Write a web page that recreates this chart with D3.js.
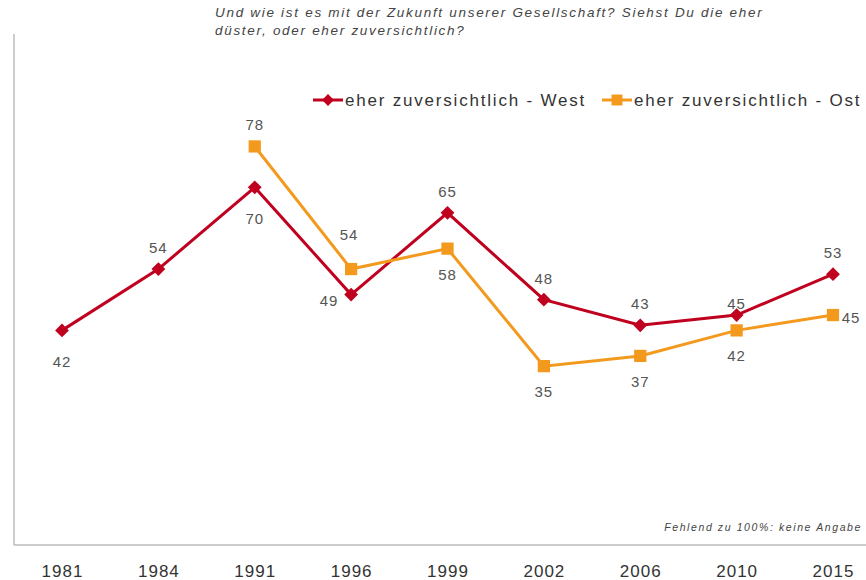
<!DOCTYPE html>
<html>
<head>
<meta charset="utf-8">
<script src="https://cdn.jsdelivr.net/npm/d3@7"></script>
<style>
  body { margin: 0; background: #fff; }
  svg text { font-family: "Liberation Sans", Arial, sans-serif; }
</style>
</head>
<body>
<div id="chart"></div>
<script>
// data
var years = ["1981", "1984", "1991", "1996", "1999", "2002", "2006", "2010", "2015"];
var west = [42, 54, 70, 49, 65, 48, 43, 45, 53];
var ost = [null, null, 78, 54, 58, 35, 37, 42, 45];
var seriesNames = ["eher zuversichtlich - West", "eher zuversichtlich - Ost"];
var titleLines = ["Und wie ist es mit der Zukunft unserer Gesellschaft? Siehst Du die eher",
                  "düster, oder eher zuversichtlich?"];
var footnote = "Fehlend zu 100%: keine Angabe";

// where each value label sits relative to its marker
var westLabelPos = ["belowFar", "above", "belowFar", "belowLeft", "above", "above", "above", "aboveClose", "above"];
var ostLabelPos = [null, null, "above", "aboveHigh", "below", "below", "below", "below", "right"];

var W = 866, H = 580;
var colors = { west: "#c0001f", ost: "#f39a1e" };

var svg = d3.select("#chart").append("svg").attr("width", W).attr("height", H);

var x = d3.scalePoint().domain(years).range([62, 833]);
var y = d3.scaleLinear().domain([0, 100]).range([545, 34]);

// axis frame: left and bottom only
svg.append("line").attr("x1", 14).attr("x2", 14).attr("y1", 34).attr("y2", 545)
  .style("stroke", "#bbb").style("stroke-width", 1.5);
svg.append("line").attr("x1", 14).attr("x2", W).attr("y1", 545).attr("y2", 545)
  .style("stroke", "#bbb").style("stroke-width", 1.5);

// year labels
var xAxis = svg.append("g").attr("transform", "translate(0,545)")
  .call(d3.axisBottom(x).tickSize(0).tickPadding(0));
xAxis.select(".domain").remove();
xAxis.selectAll("text")
  .attr("dy", null).attr("y", 32)
  .style("font-size", "17px").style("letter-spacing", "1px").style("fill", "#333");

// title
svg.append("g").selectAll("text").data(titleLines).enter().append("text")
  .attr("x", 215).attr("y", function(d, i){ return 17 + i * 18; })
  .style("font-size", "13.5px").style("font-style", "italic")
  .style("letter-spacing", "1.7px").style("fill", "#444")
  .text(function(d){ return d; });

// footnote
svg.append("text").attr("x", 862).attr("y", 531).attr("text-anchor", "end")
  .style("font-size", "10.5px").style("font-style", "italic")
  .style("letter-spacing", "1.6px").style("fill", "#444")
  .text(footnote);

var line = d3.line()
  .defined(function(d){ return d != null; })
  .x(function(d, i){ return x(years[i]); })
  .y(function(d){ return y(d); });

function drawSeries(values, color, diamond, labelPos){
  var g = svg.append("g");
  g.append("path").datum(values).attr("d", line)
    .style("fill", "none").style("stroke", color).style("stroke-width", 3)
    .style("stroke-linejoin", "miter");
  var pts = values.map(function(v, i){ return { v: v, i: i }; })
    .filter(function(d){ return d.v != null; });
  g.selectAll(".mk").data(pts).enter().append("path")
    .attr("d", d3.symbol().type(d3.symbolSquare).size(diamond ? 95 : 150))
    .attr("transform", function(d){
      return "translate(" + x(years[d.i]) + "," + y(d.v) + ")" + (diamond ? " rotate(45)" : "");
    })
    .style("fill", color);
  var off = {
    above: [0, -16], aboveClose: [0, -6], aboveHigh: [-2, -29],
    below: [0, 31], belowFar: [0, 37], belowLeft: [-22, 11], right: [18, 8]
  };
  g.selectAll(".lb").data(pts).enter().append("text")
    .attr("x", function(d){ return x(years[d.i]) + off[labelPos[d.i]][0]; })
    .attr("y", function(d){ return y(d.v) + off[labelPos[d.i]][1]; })
    .attr("text-anchor", "middle")
    .style("font-size", "15px").style("letter-spacing", "1px").style("fill", "#555")
    .text(function(d){ return d.v; });
}

drawSeries(west, colors.west, true, westLabelPos);
drawSeries(ost, colors.ost, false, ostLabelPos);

// legend
var legend = svg.append("g").attr("transform", "translate(0,100)");
var legendItems = [
  { name: seriesNames[0], color: colors.west, x: 313, diamond: true },
  { name: seriesNames[1], color: colors.ost, x: 602, diamond: false }
];
legendItems.forEach(function(it){
  legend.append("line").attr("x1", it.x).attr("x2", it.x + 30).attr("y1", 0).attr("y2", 0)
    .style("stroke", it.color).style("stroke-width", 3);
  legend.append("path")
    .attr("d", d3.symbol().type(d3.symbolSquare).size(it.diamond ? 70 : 120))
    .attr("transform", "translate(" + (it.x + 15) + ",0)" + (it.diamond ? " rotate(45)" : ""))
    .style("fill", it.color);
  legend.append("text").attr("x", it.x + 32).attr("y", 6)
    .style("font-size", "17px").style("letter-spacing", "1.8px").style("fill", "#333")
    .text(it.name);
});
</script>
</body>
</html>
